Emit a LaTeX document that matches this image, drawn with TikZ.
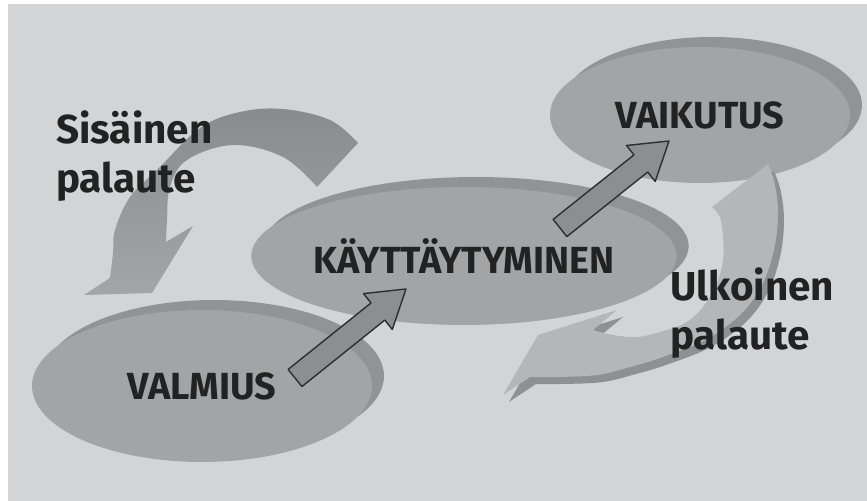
\documentclass[tikz,border=0pt]{standalone}
\usepackage{fontspec}
\setmainfont{Fira Sans}
\usepackage{tikz}
\usetikzlibrary{calc,shapes.geometric,shadows}

\definecolor{tausta}{HTML}{D2D4D5}
\definecolor{pallo}{HTML}{A2A4A5}
\definecolor{varjo}{HTML}{919394}
\definecolor{nuoli}{HTML}{8C8E8F}
\definecolor{reuna}{HTML}{2E2E2E}
\definecolor{kaariyla}{HTML}{898B8D}
\definecolor{kaariala}{HTML}{A3A5A6}
\definecolor{kaari}{HTML}{B4B6B7}
\definecolor{kaarivarjo}{HTML}{8E9092}
\definecolor{teksti}{HTML}{222222}

\newcommand{\nimi}{\bfseries\fontsize{21.5}{24}\selectfont}
\newcommand{\selitefont}{\bfseries\fontsize{23}{28.45}\selectfont}

% suora nuoli: #1 = tyvi, #2 = karki
\newcommand{\blokkinuoli}[2]{%
  \coordinate (kanta) at ($(#2)!0.72cm!(#1)$);
  \draw[blokki] ($(#1)!0.22cm!90:(#2)$) -- ($(kanta)!0.22cm!90:(#2)$)
    -- ($(kanta)!0.46cm!90:(#2)$) -- (#2) -- ($(kanta)!0.46cm!-90:(#2)$)
    -- ($(kanta)!0.22cm!-90:(#2)$) -- ($(#1)!0.22cm!-90:(#2)$) -- cycle;}

\begin{document}
\begin{tikzpicture}[x=0.02cm, y=0.02cm, % 1 = 1px
  pallo/.style={ellipse, fill=pallo, inner sep=0pt, text=teksti, font=\nimi,
    copy shadow={shadow xshift=0.24cm, shadow yshift=0.2cm, fill=varjo, draw=none}},
  selite/.style={align=left, anchor=base west, text=teksti, font=\selitefont},
  blokki/.style={fill=nuoli, draw=reuna, line width=0.8pt, line join=round}]
    \useasboundingbox (0,0) rectangle (867,501); % kuvan koko
    \fill[white] (0,0) rectangle (867,501);
    \fill[tausta] (8,0) rectangle (867,497); % tausta

    % soikiot, varjo oikealla ylhaalla
    \node[pallo, minimum width=6.8cm, minimum height=3.04cm] (valmius) at (202,115) {VALMIUS};
    \node[pallo, minimum width=6.72cm, minimum height=2.76cm] (kaytt) at (464,245) {KÄYTTÄYTYMINEN};
    \node[pallo, minimum width=6cm, minimum height=2.72cm] (vaikutus) at (700,386) {VAIKUTUS};

    % suorat nuolet
    \coordinate (n1a) at (295,123);
    \coordinate (n1b) at (406,212);
    \coordinate (n2a) at (560,273);
    \coordinate (n2b) at (669,360);
    \blokkinuoli{n1a}{n1b}
    \blokkinuoli{n2a}{n2b}

    % sisainen palaute, kaareva nuoli
    \shade[top color=kaariyla, bottom color=kaariala]
      plot[smooth, tension=0.6] coordinates {(358,358) (330,381) (283,392) (240,389) (200,373) (157,331) (130,304) (115,271) (113,248) (110,223)}
      -- (84,206) -- (152,208) -- (193,275) -- (166,259)
      -- plot[smooth, tension=0.6] coordinates {(166,259) (167,281) (170,314) (187,341) (233,356) (283,344) (317,314)} -- cycle;

    % ulkoinen palaute, ensin varjo
    \foreach \dx/\dy/\vari in {6/-7/kaarivarjo, 0/0/kaari}{
      \fill[\vari, shift={(\dx,\dy)}]
        plot[smooth, tension=0.6] coordinates {(768,337) (775,316) (778,286) (774,251) (762,216) (740,186) (705,161) (660,143) (630,134) (597,126) (557,124) (530,124)}
        -- (503,106) -- (538,166) -- (617,191) -- (593,171)
        -- plot[smooth, tension=0.6] coordinates {(593,171) (613,166) (637,164) (660,169) (685,178) (703,194) (717,218) (723,241) (723,264) (720,284) (712,294)} -- cycle;
    }

    \node[selite] (sisainen) at (50,308) {Sisäinen\\palaute}; % base = viimeinen rivi
    \node[selite] (ulkoinen) at (664,151) {Ulkoinen\\palaute};
\end{tikzpicture}
\end{document}
